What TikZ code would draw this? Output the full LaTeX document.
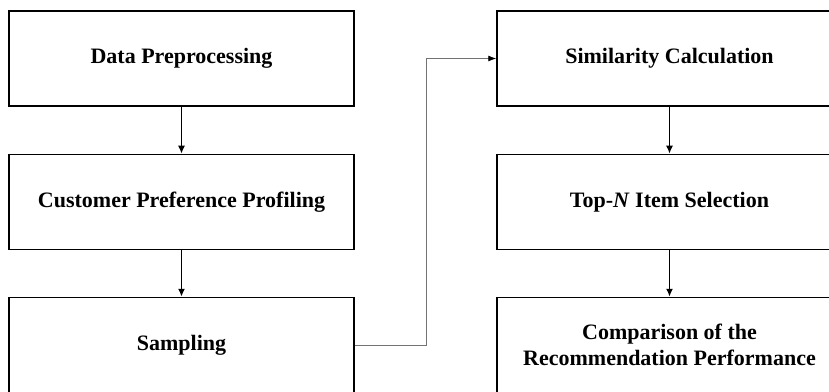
\documentclass[tikz,border=0pt]{standalone}
\usepackage{fontspec}
\setmainfont{Liberation Serif}
\usetikzlibrary{arrows.meta}
\usetikzlibrary{positioning}

\tikzset{
  stage/.style={draw=black, line width=1.5pt, minimum width=345pt, minimum height=95pt,
    align=center, font=\fontsize{22}{26}\selectfont\bfseries, inner sep=0pt},
  flow/.style={black, line width=1.6pt, ->, >={Latex[length=8pt,width=7pt]}},
  jump/.style={black!55, line width=0.9pt, ->, >={Latex[length=8pt,width=6pt,black]}}
}

\begin{document}
\begin{tikzpicture}[x=1pt, y=1pt]
\useasboundingbox (0,0) rectangle (829,391);
\clip (0,0) rectangle (829,391);
% left column
\node[stage] (prep) at (181.5,332.5) {Data Preprocessing};
\node[stage] (prof) at (181.5,189) {Customer Preference Profiling};
\node[stage] (samp) at (181.5,46) {Sampling};
% right column
\node[stage] (simi) at (669.5,332.5) {Similarity Calculation};
\node[stage] (topn) at (669.5,189) {Top-\textit{N} Item Selection};
\node[stage] (comp) at (669.5,46) {Comparison of the\\Recommendation Performance};
\foreach \a/\b in {prep/prof, prof/samp, simi/topn, topn/comp} {
 \draw[flow] (\a) -- (\b);
}
\draw[jump] (samp.east) -- ++(72,0) |- (simi.west);
\end{tikzpicture}
\end{document}
